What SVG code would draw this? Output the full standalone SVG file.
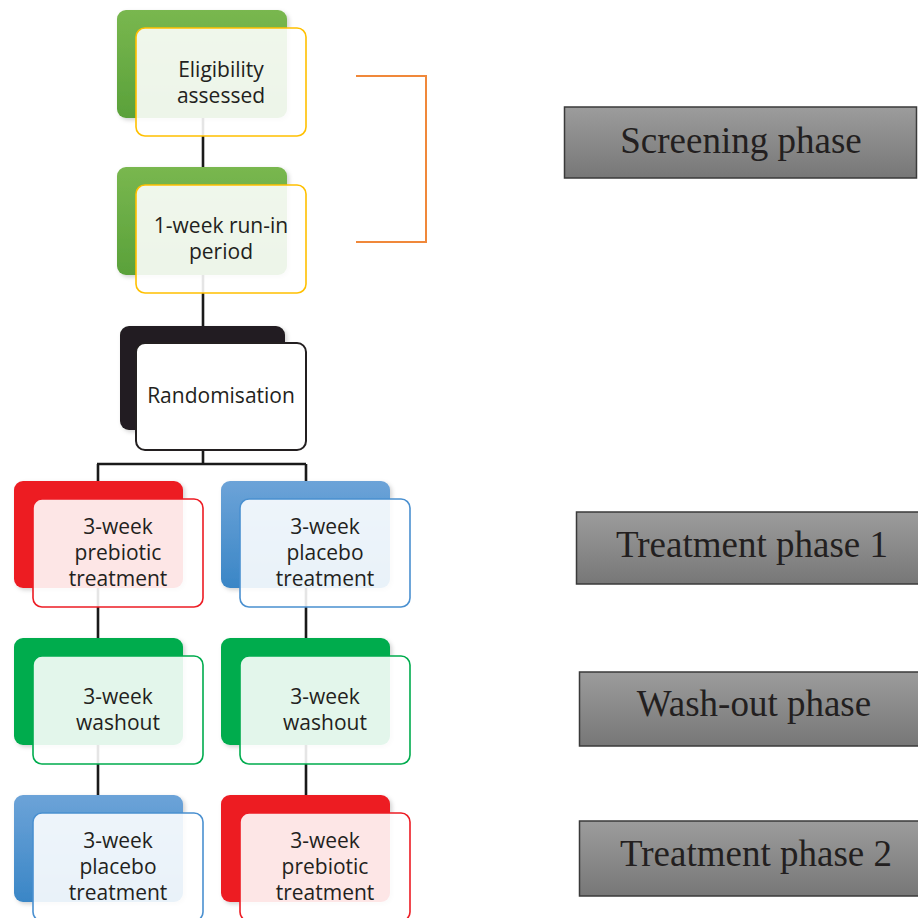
<svg xmlns="http://www.w3.org/2000/svg" width="918" height="918" viewBox="0 0 918 918">
  <defs>
    <linearGradient id="gLeaf" x1="0" y1="0" x2="0" y2="1">
      <stop offset="0" stop-color="#79B74F"/>
      <stop offset="1" stop-color="#5AA13A"/>
    </linearGradient>
    <linearGradient id="gBlue" x1="0" y1="0" x2="0" y2="1">
      <stop offset="0" stop-color="#6CA3D8"/>
      <stop offset="1" stop-color="#3A86C6"/>
    </linearGradient>
    <linearGradient id="gGrey" x1="0" y1="0" x2="0" y2="1">
      <stop offset="0" stop-color="#9C9C9C"/>
      <stop offset="1" stop-color="#777777"/>
    </linearGradient>
    <filter id="soft" x="-10%" y="-10%" width="125%" height="125%">
      <feDropShadow dx="2" dy="2" stdDeviation="2" flood-color="#000" flood-opacity="0.18"/>
    </filter>
  </defs>
  <style>
    .back { filter: url(#soft); }
    .front { fill: #ffffff; fill-opacity: 0.89; stroke-width: 1.6; }
    .lbl { font-family: "Open Sans", "Noto Sans", "DejaVu Sans", sans-serif; font-size: 21px; fill: #231F20; text-anchor: middle; }
    .phase rect { fill: url(#gGrey); stroke: #3A3A3A; stroke-width: 1.5; }
    .phase text { font-family: "Liberation Serif", "Times New Roman", serif; font-size: 37px; fill: #231F20; text-anchor: middle; }
    .conn { stroke: #1A1A1A; stroke-width: 2.6; fill: none; }
    .bracket { stroke: #F0883A; stroke-width: 2; fill: none; }
  </style>

  <rect width="918" height="918" fill="#ffffff"/>

  <!-- connectors (drawn first so the translucent boxes sit over them) -->
  <g id="connectors">
    <path class="conn" d="M203 118 V168"/>
    <path class="conn" d="M203 275 V327"/>
    <path class="conn" d="M203 450 V464 M97 464 H306 M98 464 V482 M306 464 V482"/>
    <path class="conn" d="M98 588 V639 M306 588 V639"/>
    <path class="conn" d="M98 745 V796 M306 745 V796"/>
  </g>

  <!-- screening steps -->
  <g id="eligibility">
    <rect class="back" x="117" y="10" width="170" height="108" rx="9" fill="url(#gLeaf)"/>
    <rect class="front" x="136" y="28" width="170" height="108" rx="9" stroke="#FFC000"/>
    <text class="lbl" x="221" y="77">Eligibility</text>
    <text class="lbl" x="221" y="103">assessed</text>
  </g>
  <g id="runin">
    <rect class="back" x="117" y="167" width="170" height="108" rx="9" fill="url(#gLeaf)"/>
    <rect class="front" x="136" y="185" width="170" height="108" rx="9" stroke="#FFC000"/>
    <text class="lbl" x="221" y="233">1-week run-in</text>
    <text class="lbl" x="221" y="259">period</text>
  </g>
  <g id="randomisation">
    <rect class="back" x="120" y="326" width="165" height="104" rx="9" fill="#231F20"/>
    <rect x="136" y="343" width="170" height="107" rx="9" fill="#ffffff" stroke="#231F20" stroke-width="2"/>
    <text class="lbl" x="221" y="403">Randomisation</text>
  </g>

  <!-- arm A -->
  <g id="armA-prebiotic">
    <rect class="back" x="14" y="481" width="169" height="107" rx="9" fill="#ED1C24"/>
    <rect class="front" x="33" y="499" width="170" height="108" rx="9" stroke="#ED1C24"/>
    <text class="lbl" x="118" y="534">3-week</text>
    <text class="lbl" x="118" y="560">prebiotic</text>
    <text class="lbl" x="118" y="586">treatment</text>
  </g>
  <g id="armA-washout">
    <rect class="back" x="14" y="638" width="169" height="107" rx="9" fill="#00AC4E"/>
    <rect class="front" x="33" y="656" width="170" height="108" rx="9" stroke="#00AC4E"/>
    <text class="lbl" x="118" y="704">3-week</text>
    <text class="lbl" x="118" y="730">washout</text>
  </g>
  <g id="armA-placebo">
    <rect class="back" x="14" y="795" width="169" height="107" rx="9" fill="url(#gBlue)"/>
    <rect class="front" x="33" y="813" width="170" height="108" rx="9" stroke="#4A90D0"/>
    <text class="lbl" x="118" y="848">3-week</text>
    <text class="lbl" x="118" y="874">placebo</text>
    <text class="lbl" x="118" y="900">treatment</text>
  </g>

  <!-- arm B -->
  <g id="armB-placebo">
    <rect class="back" x="221" y="481" width="169" height="107" rx="9" fill="url(#gBlue)"/>
    <rect class="front" x="240" y="499" width="170" height="108" rx="9" stroke="#4A90D0"/>
    <text class="lbl" x="325" y="534">3-week</text>
    <text class="lbl" x="325" y="560">placebo</text>
    <text class="lbl" x="325" y="586">treatment</text>
  </g>
  <g id="armB-washout">
    <rect class="back" x="221" y="638" width="169" height="107" rx="9" fill="#00AC4E"/>
    <rect class="front" x="240" y="656" width="170" height="108" rx="9" stroke="#00AC4E"/>
    <text class="lbl" x="325" y="704">3-week</text>
    <text class="lbl" x="325" y="730">washout</text>
  </g>
  <g id="armB-prebiotic">
    <rect class="back" x="221" y="795" width="169" height="107" rx="9" fill="#ED1C24"/>
    <rect class="front" x="240" y="813" width="170" height="108" rx="9" stroke="#ED1C24"/>
    <text class="lbl" x="325" y="848">3-week</text>
    <text class="lbl" x="325" y="874">prebiotic</text>
    <text class="lbl" x="325" y="900">treatment</text>
  </g>

  <!-- bracket grouping the screening steps -->
  <g id="screening-bracket">
    <path class="bracket" d="M356 76 H426 V242 H356"/>
  </g>

  <!-- phase labels -->
  <g id="phase-screening" class="phase">
    <rect x="564.5" y="107" width="352" height="71"/>
    <text x="741" y="153">Screening phase</text>
  </g>
  <g id="phase-treatment1" class="phase">
    <rect x="576.5" y="512" width="360" height="72"/>
    <text x="752" y="557">Treatment phase 1</text>
  </g>
  <g id="phase-washout" class="phase">
    <rect x="579.5" y="672" width="360" height="74"/>
    <text x="754" y="716">Wash-out phase</text>
  </g>
  <g id="phase-treatment2" class="phase">
    <rect x="579.5" y="821" width="360" height="75"/>
    <text x="756" y="866">Treatment phase 2</text>
  </g>
</svg>
